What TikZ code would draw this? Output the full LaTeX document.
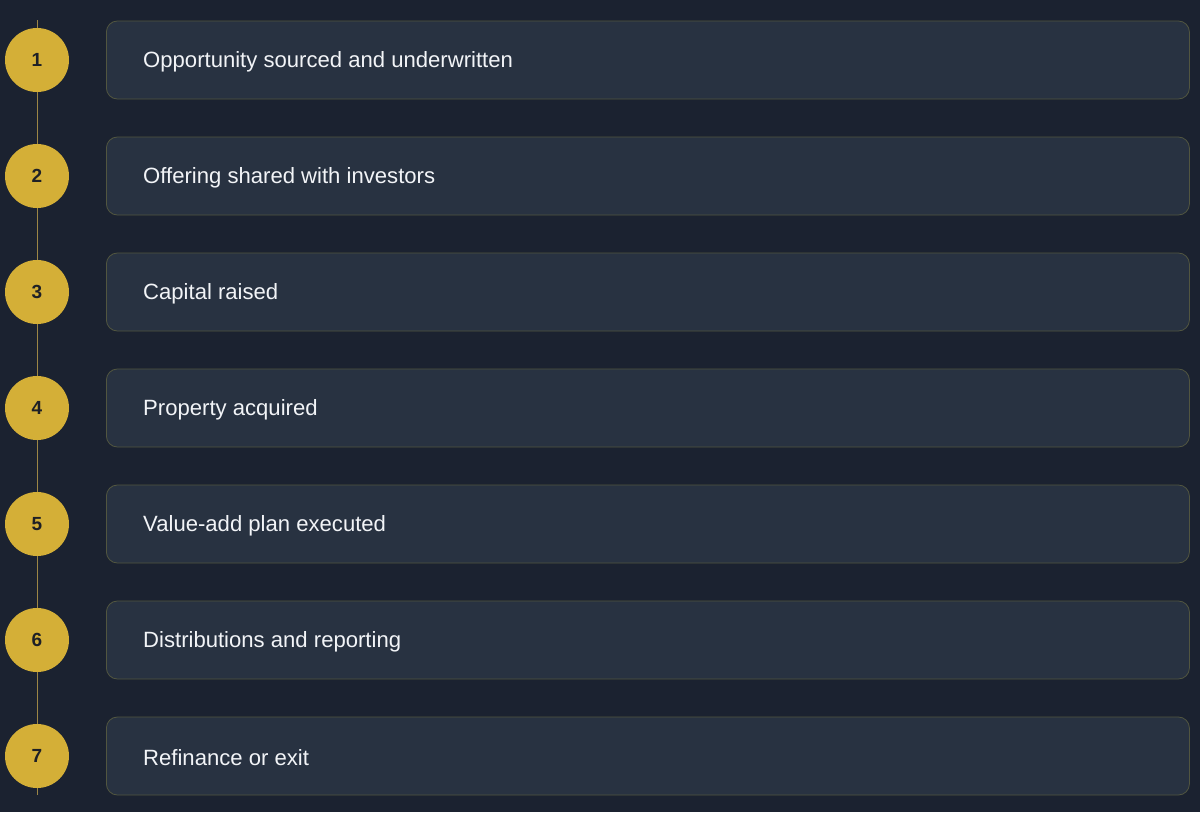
\documentclass[tikz,border=0pt]{standalone}
\usepackage{fontspec}
\setmainfont{Liberation Sans}
\definecolor{bgc}{HTML}{1B2230}
\definecolor{boxfill}{HTML}{283241}
\definecolor{boxline}{HTML}{525640}
\definecolor{gold}{HTML}{D4AF37}
\definecolor{linec}{HTML}{9C8646}
\definecolor{numc}{HTML}{1E2026}
\definecolor{txt}{HTML}{F2F4F7}
\begin{document}
\begin{tikzpicture}[x=1pt,y=-1pt,
  stepbox/.style={draw=boxline, line width=0.8pt, fill=boxfill, rounded corners=11pt,
    minimum width=1083pt, minimum height=78pt, anchor=west, inner sep=0pt},
  steptext/.style={anchor=west, text=txt, font=\fontsize{22.1}{26}\selectfont, inner sep=0pt},
  numdot/.style={circle, fill=gold, minimum size=64pt, inner sep=0pt, text=numc,
    font=\fontsize{19}{22}\selectfont\bfseries},
  rail/.style={draw=linec, line width=0.9pt}]
\fill[bgc] (0,0) rectangle (1200,812);
\useasboundingbox (0,0) rectangle (1200,812);
\coordinate (top) at (37,20);
\coordinate (bot) at (37,795);
\draw[rail] (top) -- (bot);
\foreach \i/\t in {1/Opportunity sourced and underwritten,
                   2/Offering shared with investors,
                   3/Capital raised,
                   4/Property acquired,
                   5/Value-add plan executed,
                   6/Distributions and reporting,
                   7/Refinance or exit}{
  \pgfmathsetmacro{\yy}{60+116*(\i-1)}
  \node[numdot] (n\i) at (37,\yy) {\i};
  \node[stepbox] (b\i) at (106,\yy) {};
  \node[steptext] (t\i) at (143,\yy+1.5) {\t};
}
\end{tikzpicture}
\end{document}
